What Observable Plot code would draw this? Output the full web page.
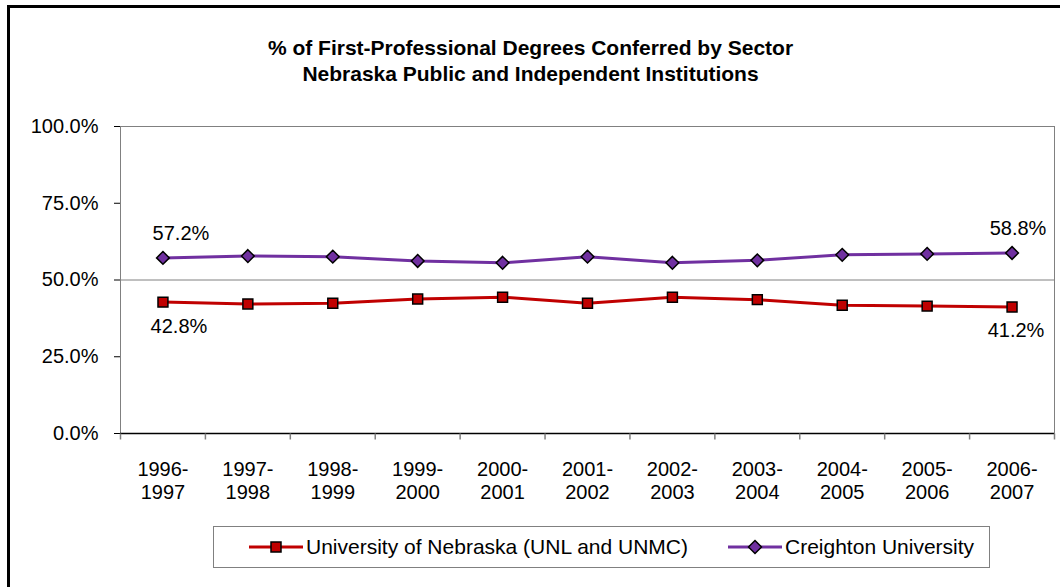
<!DOCTYPE html>
<html>
<head>
<meta charset="utf-8">
<script src="https://cdn.jsdelivr.net/npm/d3@7"></script>
<script src="https://cdn.jsdelivr.net/npm/@observablehq/plot@0.6"></script>
<style>
  html, body { margin: 0; padding: 0; background: #fff; }
  #wrap { position: relative; width: 1060px; height: 587px; overflow: hidden; font-family: "Liberation Sans", Arial, sans-serif; }
  #border { position: absolute; left: 7px; top: 5px; width: 1100px; height: 700px; border: 3px solid #000; box-sizing: border-box; }
  #chart { position: absolute; left: 0; top: 0; }
  #legend { position: absolute; left: 213px; top: 526px; width: 777px; height: 42px; border: 1px solid #808080; box-sizing: border-box; background: #fff;
    display: flex; align-items: center; padding-left: 35px; font-size: 21px; color: #000; }
  .item { display: flex; align-items: center; }
  .item svg { margin-right: 3px; }
</style>
</head>
<body>
<div id="wrap">
  <div id="border"></div>
  <div id="chart"></div>
  <div id="legend"></div>
</div>
<script>
const categories = ["1996-1997","1997-1998","1998-1999","1999-2000","2000-2001","2001-2002","2002-2003","2003-2004","2004-2005","2005-2006","2006-2007"];
const unlValues = [42.8, 42.2, 42.4, 43.8, 44.4, 42.4, 44.4, 43.6, 41.8, 41.5, 41.2];
const creightonValues = [57.2, 57.8, 57.6, 56.2, 55.6, 57.6, 55.6, 56.4, 58.2, 58.5, 58.8];
const seriesNames = ["University of Nebraska (UNL and UNMC)", "Creighton University"];
const seriesColors = ["#C00000", "#7030A0"];
const yTicks = [0, 25, 50, 75, 100];
const titleLines = ["% of First-Professional Degrees Conferred by Sector", "Nebraska Public and Independent Institutions"];

const unl = categories.map((c, i) => ({i, cat: c, value: unlValues[i]}));
const cre = categories.map((c, i) => ({i, cat: c, value: creightonValues[i]}));
const boundaries = d3.range(categories.length + 1).map(k => k - 0.5);
const last = categories.length - 1;

const diamond = {draw(ctx, size) { const h = Math.sqrt(size / Math.PI) * 1.1; ctx.moveTo(0, -h); ctx.lineTo(h, 0); ctx.lineTo(0, h); ctx.lineTo(-h, 0); ctx.closePath(); }};
const tickDown = {draw(ctx, size) { ctx.moveTo(0, 0); ctx.lineTo(0, 6); }};
const fmt = v => v.toFixed(1) + "%";

const chart = Plot.plot({
  width: 1060,
  height: 587,
  marginLeft: 120,
  marginRight: 6,
  marginTop: 126,
  marginBottom: 154,
  style: {fontFamily: "'Liberation Sans', Arial, sans-serif", fontSize: "20px", color: "#000", background: "transparent", overflow: "visible"},
  x: {domain: [-0.5, categories.length - 0.5], axis: null},
  y: {domain: [0, 100], ticks: yTicks, tickFormat: fmt, tickSize: 6, tickPadding: 16, label: null},
  marks: [
    Plot.frame({stroke: "#808080"}),
    Plot.ruleY([50], {stroke: "#808080"}),
    Plot.ruleY([0], {stroke: "#000", strokeWidth: 1.5}),
    Plot.dot(boundaries, {x: d => d, y: 0, symbol: tickDown, stroke: "#808080", r: 3}),
    Plot.text(categories, {x: (d, i) => i, y: 0, text: d => d.replace("-", "-\n"), dy: 47, lineAnchor: "middle", lineHeight: 1.15, fill: "#000"}),
    Plot.text([titleLines.join("\n")], {frameAnchor: "top", dx: -57, dy: -67, lineAnchor: "middle", lineHeight: 1.22, fontWeight: "bold", fontSize: 21, fill: "#000"}),
    Plot.line(unl, {x: "i", y: "value", stroke: seriesColors[0], strokeWidth: 3}),
    Plot.line(cre, {x: "i", y: "value", stroke: seriesColors[1], strokeWidth: 3}),
    Plot.dot(unl, {x: "i", y: "value", symbol: "square", r: 5.6, fill: seriesColors[0], stroke: "#000", strokeWidth: 1.5}),
    Plot.dot(cre, {x: "i", y: "value", symbol: diamond, r: 5.8, fill: seriesColors[1], stroke: "#000", strokeWidth: 1.5}),
    Plot.text([cre[0]], {x: "i", y: "value", text: d => fmt(d.value), dy: -24, dx: 18, fill: "#000"}),
    Plot.text([cre[last]], {x: "i", y: "value", text: d => fmt(d.value), dy: -24, dx: 6, fill: "#000"}),
    Plot.text([unl[0]], {x: "i", y: "value", text: d => fmt(d.value), dy: 24, dx: 16, fill: "#000"}),
    Plot.text([unl[last]], {x: "i", y: "value", text: d => fmt(d.value), dy: 24, dx: 4, fill: "#000"})
  ]
});
document.getElementById("chart").appendChild(chart);

// legend
const legend = document.getElementById("legend");
seriesNames.forEach((name, k) => {
  const item = document.createElement("div");
  item.className = "item";
  if (k > 0) item.style.marginLeft = "40px";
  const marker = k === 0
    ? `<rect x="22" y="3" width="10" height="10" fill="${seriesColors[k]}" stroke="#000" stroke-width="1.5"/>`
    : `<path d="M27,1.5 L33.5,8 L27,14.5 L20.5,8 Z" fill="${seriesColors[k]}" stroke="#000" stroke-width="1.5"/>`;
  item.innerHTML = `<svg width="54" height="16"><line x1="0" y1="8" x2="54" y2="8" stroke="${seriesColors[k]}" stroke-width="3"/>${marker}</svg><span>${name}</span>`;
  legend.appendChild(item);
});
</script>
</body>
</html>
